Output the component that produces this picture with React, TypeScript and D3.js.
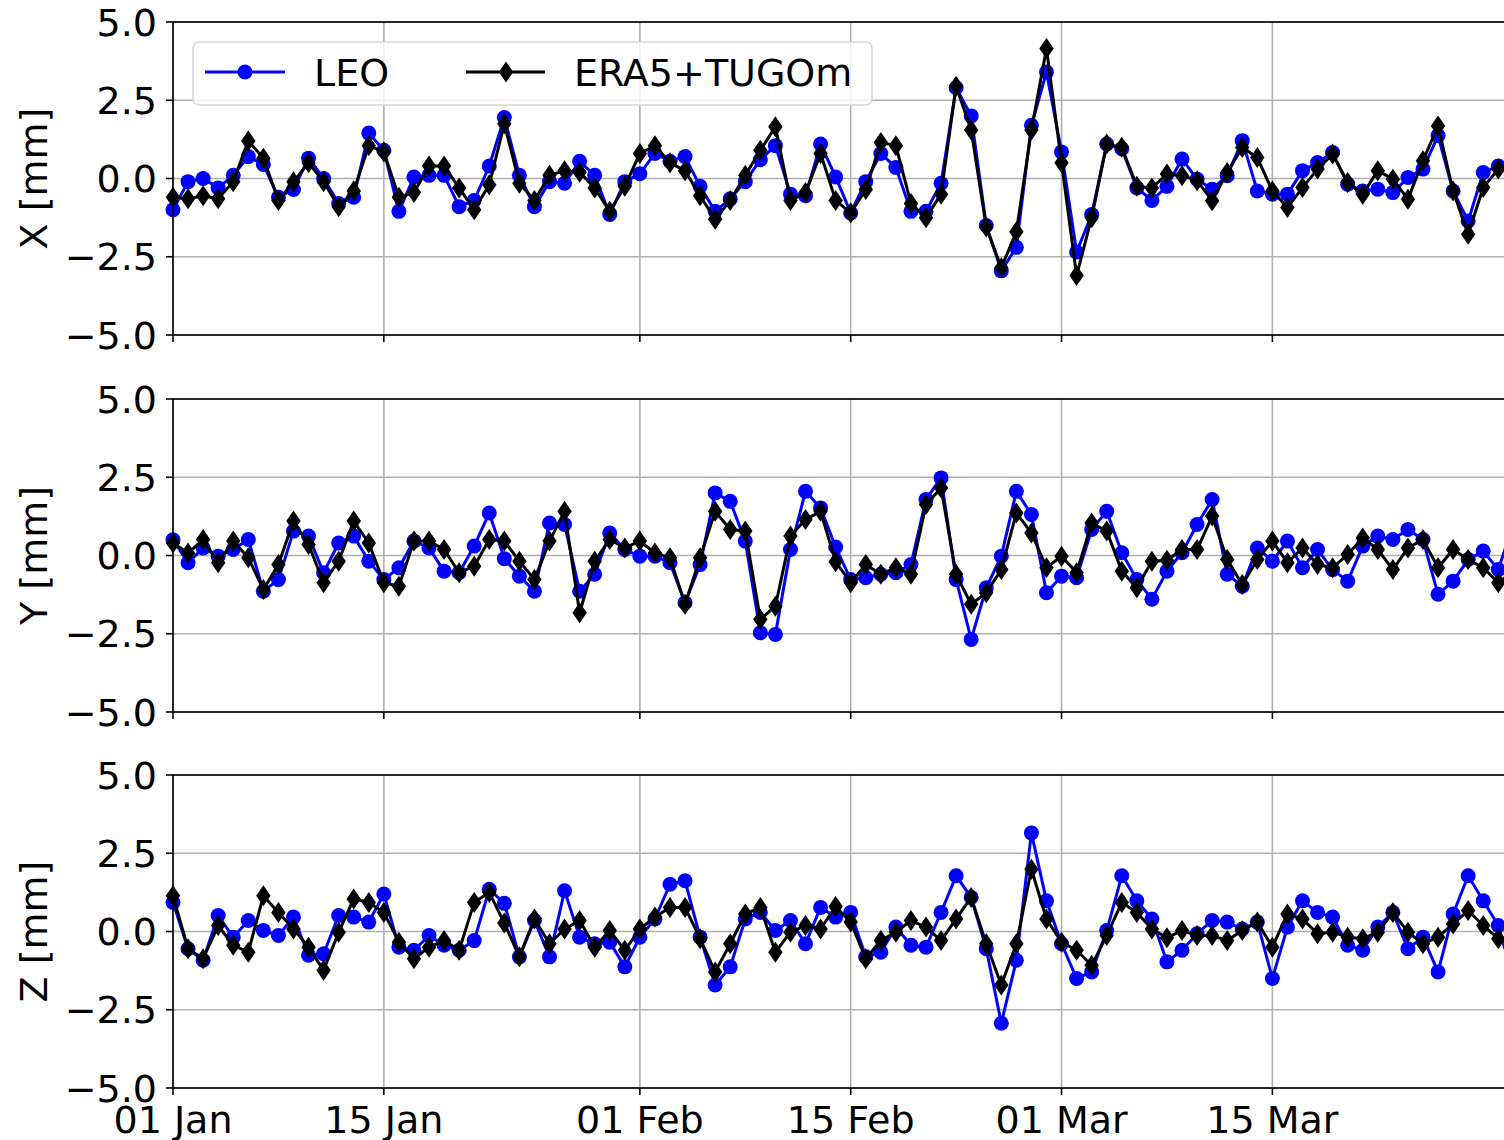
import React from "react";
import * as d3 from "d3";

// ---- data (daily values, 1 Jan .. 31 Mar) ----
const START = "2021-01-01";
const TICK_DATES = ["2021-01-01", "2021-01-15", "2021-02-01", "2021-02-15", "2021-03-01", "2021-03-15"];
const TICK_LABELS = ["01 Jan", "15 Jan", "01 Feb", "15 Feb", "01 Mar", "15 Mar"];
const Y_TICKS = [5.0, 2.5, 0.0, -2.5, -5.0];
const PANEL_LABELS = ["X [mm]", "Y [mm]", "Z [mm]"];
const SERIES_NAMES = ["LEO", "ERA5+TUGOm"];

const X_LEO = [
  -1.0, -0.1, 0.0, -0.3, 0.1, 0.7, 0.45, -0.6, -0.35, 0.65,
  0.0, -0.8, -0.6, 1.45, 0.9, -1.05, 0.05, 0.1, 0.1, -0.9,
  -0.7, 0.4, 1.95, 0.1, -0.9, -0.1, -0.15, 0.55, 0.1, -1.15,
  -0.1, 0.15, 0.8, 0.55, 0.7, -0.25, -1.05, -0.65, -0.1, 0.6,
  1.05, -0.5, -0.55, 1.1, 0.05, -1.1, -0.1, 0.8, 0.35, -1.05,
  -1.05, -0.15, 2.9, 2.0, -1.5, -2.95, -2.2, 1.7, 3.4, 0.85,
  -2.35, -1.15, 1.1, 0.95, -0.3, -0.7, -0.25, 0.62, -0.02, -0.34,
  0.09, 1.21, -0.4, -0.5, -0.5, 0.25, 0.51, 0.83, -0.18, -0.4,
  -0.34, -0.45, 0.03, 0.3, 1.37, -0.4, -1.36, 0.19, 0.4, 0.3,
];
const X_ERA = [
  -0.6, -0.65, -0.55, -0.65, -0.1, 1.2, 0.65, -0.7, -0.1, 0.5,
  -0.1, -0.9, -0.4, 1.05, 0.85, -0.6, -0.45, 0.4, 0.4, -0.3,
  -1.0, -0.2, 1.75, -0.15, -0.7, 0.1, 0.25, 0.2, -0.3, -1.05,
  -0.25, 0.8, 1.05, 0.5, 0.25, -0.55, -1.3, -0.7, 0.1, 0.9,
  1.65, -0.7, -0.45, 0.8, -0.7, -1.1, -0.35, 1.15, 1.05, -0.8,
  -1.25, -0.5, 2.95, 1.55, -1.55, -2.85, -1.7, 1.55, 4.15, 0.5,
  -3.1, -1.25, 1.1, 1.0, -0.25, -0.3, 0.14, 0.09, -0.07, -0.71,
  0.19, 0.99, 0.67, -0.4, -0.93, -0.29, 0.3, 0.78, -0.13, -0.5,
  0.25, -0.02, -0.66, 0.57, 1.68, -0.4, -1.78, -0.29, 0.3, 0.5,
];
const Y_LEO = [
  0.5, -0.23, 0.24, -0.02, 0.19, 0.51, -1.14, -0.77, 0.78, 0.62,
  -0.55, 0.4, 0.62, -0.18, -0.77, -0.39, 0.46, 0.24, -0.5, -0.55,
  0.3, 1.36, -0.1, -0.66, -1.14, 1.04, 0.99, -1.14, -0.6, 0.72,
  0.19, -0.02, -0.02, -0.23, -1.51, -0.29, 2.0, 1.73, 0.46, -2.47,
  -2.52, 0.19, 2.05, 1.52, 0.27, -0.77, -0.71, -0.6, -0.55, -0.29,
  1.79, 2.48, -0.77, -2.68, -1.03, -0.02, 2.05, 1.31, -1.19, -0.66,
  -0.71, 0.83, 1.41, 0.09, -0.77, -1.4, -0.5, 0.09, 0.99, 1.79,
  -0.6, -0.98, 0.24, -0.18, 0.46, -0.39, 0.19, -0.45, -0.82, 0.3,
  0.62, 0.51, 0.83, 0.51, -1.24, -0.82, -0.13, 0.14, -0.45, 1.0,
];
const Y_ERA = [
  0.4, 0.08, 0.51, -0.23, 0.46, -0.07, -1.09, -0.29, 1.1, 0.35,
  -0.87, -0.18, 1.1, 0.4, -0.87, -0.98, 0.46, 0.46, 0.19, -0.55,
  -0.34, 0.51, 0.46, -0.18, -0.77, 0.46, 1.41, -1.83, -0.18, 0.51,
  0.24, 0.46, 0.08, -0.07, -1.56, -0.07, 1.41, 0.83, 0.78, -2.04,
  -1.62, 0.62, 1.15, 1.41, -0.2, -0.87, -0.29, -0.6, -0.39, -0.6,
  1.63, 2.16, -0.6, -1.56, -1.19, -0.45, 1.36, 0.72, -0.39, -0.02,
  -0.55, 1.04, 0.78, -0.5, -1.03, -0.18, -0.15, 0.19, 0.19, 1.26,
  -0.13, -0.93, -0.13, 0.46, -0.23, 0.24, -0.29, -0.39, 0.03, 0.56,
  0.19, -0.45, 0.24, 0.51, -0.39, 0.19, -0.13, -0.39, -0.87, -0.5,
];
const Z_LEO = [
  0.93, -0.55, -0.92, 0.51, -0.18, 0.35, 0.03, -0.13, 0.46, -0.76,
  -0.71, 0.51, 0.46, 0.3, 1.2, -0.5, -0.6, -0.13, -0.44, -0.6,
  -0.29, 1.35, 0.9, -0.81, 0.35, -0.81, 1.3, -0.18, -0.39, -0.34,
  -1.13, -0.18, 0.4, 1.51, 1.62, -0.18, -1.71, -1.13, 0.4, 0.61,
  0.03, 0.35, -0.39, 0.77, 0.46, 0.61, -0.81, -0.66, 0.14, -0.44,
  -0.5, 0.61, 1.78, 1.09, -0.55, -2.93, -0.92, 3.15, 0.98, -0.39,
  -1.5, -1.29, 0.03, 1.78, 0.98, 0.4, -0.97, -0.6, -0.07, 0.35,
  0.3, 0.08, 0.3, -1.5, 0.14, 0.98, 0.61, 0.46, -0.44, -0.6,
  0.14, 0.61, -0.55, -0.18, -1.29, 0.56, 1.78, 0.98, 0.19, -1.5,
];
const Z_ERA = [
  1.14, -0.55, -0.87, 0.19, -0.44, -0.66, 1.14, 0.61, 0.08, -0.5,
  -1.24, -0.02, 1.04, 0.93, 0.61, -0.34, -0.87, -0.5, -0.29, -0.6,
  0.93, 1.25, 0.27, -0.81, 0.4, -0.39, 0.08, 0.35, -0.5, 0.03,
  -0.6, 0.08, 0.46, 0.77, 0.77, -0.23, -1.29, -0.39, 0.56, 0.77,
  -0.66, -0.02, 0.19, 0.08, 0.8, 0.3, -0.87, -0.29, -0.02, 0.35,
  0.14, -0.29, 0.4, 1.09, -0.39, -1.71, -0.39, 1.99, 0.4, -0.34,
  -0.6, -1.08, -0.13, 0.93, 0.61, 0.08, -0.2, 0.03, -0.13, -0.13,
  -0.29, 0.03, 0.3, -0.5, 0.56, 0.4, -0.07, -0.02, -0.18, -0.23,
  -0.02, 0.61, -0.02, -0.39, -0.18, 0.24, 0.67, 0.19, -0.23, -0.3,
];

const PANELS = [
  { label: PANEL_LABELS[0], leo: X_LEO, era: X_ERA },
  { label: PANEL_LABELS[1], leo: Y_LEO, era: Y_ERA },
  { label: PANEL_LABELS[2], leo: Z_LEO, era: Z_ERA },
];

// ---- layout ----
const W = 1504;
const H = 1140;
const LEFT = 173;
const PX_PER_DAY = 15.06;
const PANEL_TOPS = [22, 399, 775];
const PANEL_H = 313;
const RIGHT = 1530;
const FONT = "DejaVu Sans, sans-serif";
const FS = 38;
const BLUE = "#0000ff";
const GRID = "#b0b0b0";
const DHW = 7.2;
const DHH = 10.5;
const CR = 7.5;

const DAY = 86400000;
const t0 = new Date(START + "T00:00:00Z");
const dates = X_LEO.map((_, i) => new Date(t0.getTime() + i * DAY));
const tEnd = new Date(t0.getTime() + 89 * DAY);
const x = d3.scaleUtc().domain([t0, tEnd]).range([LEFT, LEFT + 89 * PX_PER_DAY]);
const tickDates = TICK_DATES.map((s) => new Date(s + "T00:00:00Z"));

function minus(v: number) {
  return d3.format(".1f")(v).replace("-", "\u2212");
}

function diamondPath(cx: number, cy: number, hw: number, hh: number) {
  return `M${cx},${cy - hh}L${cx + hw},${cy}L${cx},${cy + hh}L${cx - hw},${cy}Z`;
}

function Panel({ idx }: { idx: number }) {
  const p = PANELS[idx];
  const top = PANEL_TOPS[idx];
  const bottom = top + PANEL_H;
  const y = d3.scaleLinear().domain([-5, 5]).range([bottom, top]);
  const line = d3
    .line<number>()
    .x((_, i) => x(dates[i]))
    .y((v) => y(v));
  const isLast = idx === PANELS.length - 1;
  return (
    <g>
      {tickDates.map((d, i) => (
        <line key={"gx" + i} x1={x(d)} x2={x(d)} y1={top} y2={bottom} stroke={GRID} strokeWidth={1.6} />
      ))}
      {Y_TICKS.map((v, i) => (
        <line key={"gy" + i} x1={LEFT} x2={RIGHT} y1={y(v)} y2={y(v)} stroke={GRID} strokeWidth={1.6} />
      ))}
      <path d={line(p.leo) || ""} fill="none" stroke={BLUE} strokeWidth={3} strokeLinejoin="round" />
      {p.leo.map((v, i) => (
        <circle key={"c" + i} cx={x(dates[i])} cy={y(v)} r={CR} fill={BLUE} />
      ))}
      <path d={line(p.era) || ""} fill="none" stroke="#000" strokeWidth={3} strokeLinejoin="round" />
      {p.era.map((v, i) => (
        <path key={"d" + i} d={diamondPath(x(dates[i]), y(v), DHW, DHH)} fill="#000" />
      ))}
      <rect x={LEFT} y={top} width={RIGHT - LEFT} height={PANEL_H} fill="none" stroke="#000" strokeWidth={1.6} />
      {Y_TICKS.map((v, i) => (
        <g key={"yt" + i}>
          <line x1={LEFT - 7} x2={LEFT} y1={y(v)} y2={y(v)} stroke="#000" strokeWidth={1.6} />
          <text x={LEFT - 16} y={y(v)} dy="0.36em" textAnchor="end" fontFamily={FONT} fontSize={FS} fill="#000">
            {minus(v)}
          </text>
        </g>
      ))}
      {tickDates.map((d, i) => (
        <g key={"xt" + i}>
          <line x1={x(d)} x2={x(d)} y1={bottom} y2={bottom + 7} stroke="#000" strokeWidth={1.6} />
          {isLast && (
            <text x={x(d)} y={bottom + 45} textAnchor="middle" fontFamily={FONT} fontSize={FS} fill="#000">
              {TICK_LABELS[i]}
            </text>
          )}
        </g>
      ))}
      <text
        transform={`translate(47,${(top + bottom) / 2}) rotate(-90)`}
        textAnchor="middle"
        fontFamily={FONT}
        fontSize={FS}
        fill="#000"
      >
        {p.label}
      </text>
    </g>
  );
}

function Legend() {
  const lx = 193;
  const ly = 42;
  const lw = 679;
  const lh = 63;
  const cy = 72;
  return (
    <g>
      <rect x={lx} y={ly} width={lw} height={lh} rx={6} fill="#fff" fillOpacity={0.8} stroke="#d6d6d6" strokeWidth={1.6} />
      <line x1={205} x2={285} y1={cy} y2={cy} stroke={BLUE} strokeWidth={3} />
      <circle cx={245} cy={cy} r={CR} fill={BLUE} />
      <text x={314} y={cy} dy="0.36em" fontFamily={FONT} fontSize={FS} fill="#000">
        {SERIES_NAMES[0]}
      </text>
      <line x1={466} x2={545} y1={cy} y2={cy} stroke="#000" strokeWidth={3} />
      <path d={diamondPath(506, cy, DHW, DHH)} fill="#000" />
      <text x={574} y={cy} dy="0.36em" fontFamily={FONT} fontSize={FS} fill="#000">
        {SERIES_NAMES[1]}
      </text>
    </g>
  );
}

export default function App() {
  return (
    <svg
      width={W}
      height={H}
      viewBox={`0 0 ${W} ${H}`}
      style={{ position: "absolute", left: 0, top: 0, background: "#fff" }}
    >
      <rect x={0} y={0} width={W} height={H} fill="#fff" />
      {PANELS.map((_, i) => (
        <Panel key={i} idx={i} />
      ))}
      <Legend />
    </svg>
  );
}
